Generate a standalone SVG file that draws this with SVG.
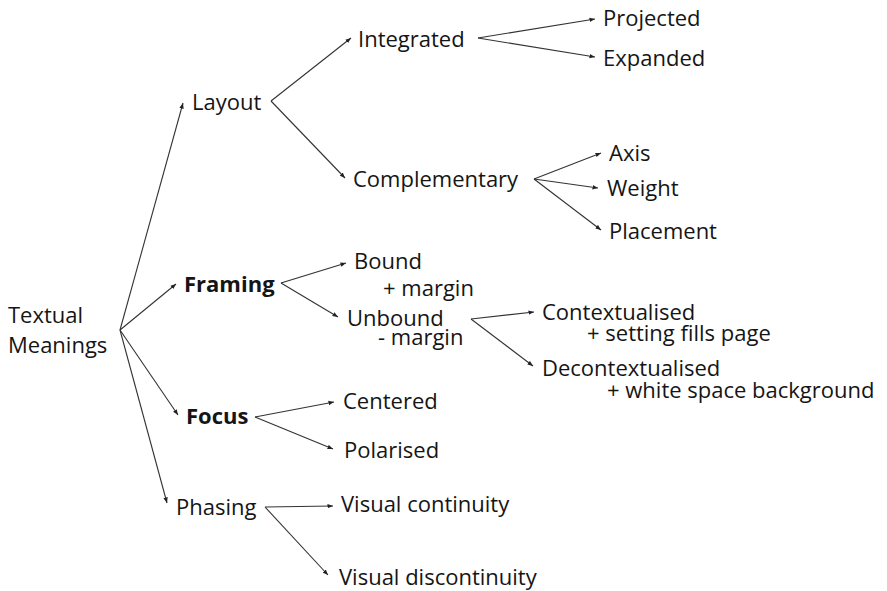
<svg xmlns="http://www.w3.org/2000/svg" width="887" height="591" viewBox="0 0 887 591">
<defs>
<marker id="ah" viewBox="0 0 10 10" refX="10" refY="5" markerWidth="5.5" markerHeight="5.5" markerUnits="userSpaceOnUse" orient="auto">
<path d="M0,1 L10,5 L0,9 Z" fill="#222"/>
</marker>
<style>
text{font-family:"Open Sans","Noto Sans","Liberation Sans",sans-serif;font-size:22px;fill:#151515}
.b{font-weight:bold}
#connectors line{stroke:#333;stroke-width:1.1;marker-end:url(#ah)}
</style>
</defs>
<rect width="887" height="591" fill="#fff"/>
<g id="connectors">
<line x1="120" y1="330" x2="183" y2="103"/>
<line x1="120" y1="330" x2="176" y2="284"/>
<line x1="120" y1="330" x2="178" y2="415"/>
<line x1="120" y1="330" x2="167" y2="503"/>
<line x1="271" y1="101" x2="351" y2="38"/>
<line x1="271" y1="101" x2="345" y2="178"/>
<line x1="478" y1="38" x2="595" y2="19"/>
<line x1="478" y1="38" x2="595" y2="57"/>
<line x1="534" y1="179" x2="601" y2="153"/>
<line x1="534" y1="179" x2="598" y2="188"/>
<line x1="534" y1="179" x2="601" y2="230"/>
<line x1="281" y1="283" x2="346" y2="263"/>
<line x1="281" y1="283" x2="338" y2="317"/>
<line x1="471" y1="319" x2="534" y2="312"/>
<line x1="471" y1="319" x2="533" y2="366"/>
<line x1="255" y1="417" x2="334" y2="402"/>
<line x1="255" y1="417" x2="333" y2="449"/>
<line x1="265" y1="507" x2="333" y2="506"/>
<line x1="265" y1="507" x2="328" y2="575"/>
</g>
<g id="root"><text x="8" y="323">Textual</text><text x="8" y="353">Meanings</text></g>
<g id="layout"><text x="192" y="110">Layout</text></g>
<g id="integrated"><text x="358" y="47">Integrated</text></g>
<g id="projected"><text x="603" y="26">Projected</text></g>
<g id="expanded"><text x="603" y="66">Expanded</text></g>
<g id="complementary"><text x="353" y="187">Complementary</text></g>
<g id="axis"><text x="609" y="161">Axis</text></g>
<g id="weight"><text x="607" y="196">Weight</text></g>
<g id="placement"><text x="609" y="239">Placement</text></g>
<g id="framing"><text class="b" x="184" y="292">Framing</text></g>
<g id="bound"><text x="354" y="269">Bound</text><text x="383" y="296">+ margin</text></g>
<g id="unbound"><text x="347" y="326">Unbound</text><text x="378" y="345">- margin</text></g>
<g id="contextualised"><text x="542" y="320">Contextualised</text><text x="587" y="341">+ setting fills page</text></g>
<g id="decontextualised"><text x="542" y="376">Decontextualised</text><text x="607" y="398">+ white space background</text></g>
<g id="focus"><text class="b" x="186" y="424">Focus</text></g>
<g id="centered"><text x="343" y="409">Centered</text></g>
<g id="polarised"><text x="344" y="458">Polarised</text></g>
<g id="phasing"><text x="176" y="515">Phasing</text></g>
<g id="continuity"><text x="341" y="512">Visual continuity</text></g>
<g id="discontinuity"><text x="339" y="585">Visual discontinuity</text></g>
</svg>
